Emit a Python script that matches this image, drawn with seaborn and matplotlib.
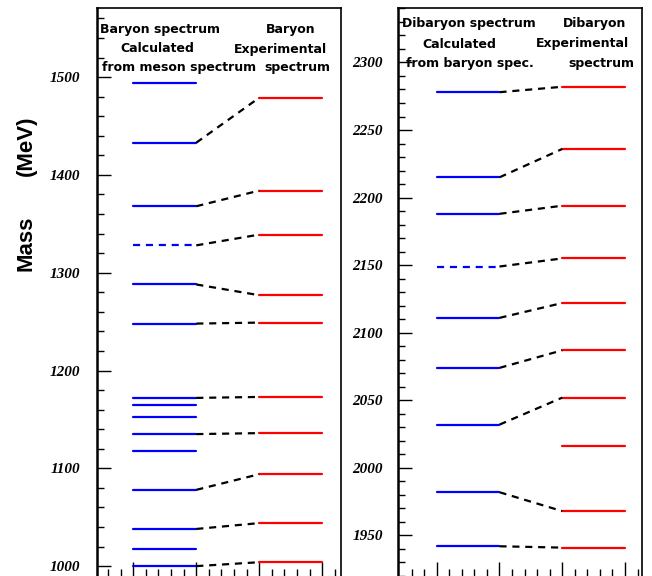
import numpy as np
import pandas as pd
import matplotlib
matplotlib.use("Agg")
import matplotlib.pyplot as plt
import seaborn as sns

# ---------------- data ----------------
# Baryon panel
baryon_calc = [1494, 1433, 1368, 1328, 1288, 1248, 1172, 1165, 1152, 1135, 1118, 1078, 1038, 1017, 1000]
baryon_calc_pred = [False, False, False, True, False, False, False, False, False, False, False, False, False, False, False]
baryon_exp = [1479, 1384, 1339, 1277, 1249, 1173, 1136, 1094, 1044, 1004]
# connections: calculated level -> experimental level
baryon_link_calc = [1433, 1368, 1328, 1288, 1248, 1172, 1135, 1078, 1038, 1000]
baryon_link_exp = [1479, 1384, 1339, 1277, 1249, 1173, 1136, 1094, 1044, 1004]

# Dibaryon panel
dibaryon_calc = [2278, 2215, 2188, 2149, 2111, 2074, 2032, 1982, 1942]
dibaryon_calc_pred = [False, False, False, True, False, False, False, False, False]
dibaryon_exp = [2282, 2236, 2194, 2155, 2122, 2087, 2052, 2016, 1968, 1941]
dibaryon_link_calc = [2278, 2215, 2188, 2149, 2111, 2074, 2032, 1982, 1942]
dibaryon_link_exp = [2282, 2236, 2194, 2155, 2122, 2087, 2052, 1968, 1941]

baryon_headers = [("Baryon spectrum", 160, 29), ("Baryon", 291, 29),
                  ("Calculated", 157, 49), ("Experimental", 280, 49),
                  ("from meson spectrum", 179, 68), ("spectrum", 297, 68)]
dibaryon_headers = [("Dibaryon spectrum", 469, 23), ("Dibaryon", 595, 23),
                    ("Calculated", 459, 44), ("Experimental", 582, 44),
                    ("from baryon spec.", 470, 63), ("spectrum", 601, 63)]

baryon_yticks = [1000, 1100, 1200, 1300, 1400, 1500]
dibaryon_yticks = [1950, 2000, 2050, 2100, 2150, 2200, 2250, 2300]


def build_segments(calc, pred, exp, lcalc, lexp):
    rows = []
    sid = 0
    for m, p in zip(calc, pred):
        kind = "pred" if p else "calc"
        rows += [dict(x=1.0, mass=m, seg=sid, kind=kind), dict(x=2.0, mass=m, seg=sid, kind=kind)]
        sid += 1
    for m in exp:
        rows += [dict(x=3.0, mass=m, seg=sid, kind="exp"), dict(x=4.0, mass=m, seg=sid, kind="exp")]
        sid += 1
    for a, b in zip(lcalc, lexp):
        rows += [dict(x=2.0, mass=a, seg=sid, kind="link"), dict(x=3.0, mass=b, seg=sid, kind="link")]
        sid += 1
    return pd.DataFrame(rows)


sns.set_style("ticks")
plt.rcParams["xtick.direction"] = "in"
plt.rcParams["ytick.direction"] = "in"
plt.rcParams["text.color"] = "black"
plt.rcParams["xtick.color"] = "black"
plt.rcParams["ytick.color"] = "black"
plt.rcParams["axes.edgecolor"] = "black"

W, H = 652, 576
fig = plt.figure(figsize=(W / 100, H / 100), dpi=100)

palette = {"calc": "#0000ff", "pred": "#0000ff", "exp": "#ff0000", "link": "#000000"}
dashes = {"calc": "", "pred": (3.2, 2.6), "exp": "", "link": (3.2, 2.6)}
tick_font = dict(family="Liberation Serif", weight="bold", style="italic", size=11)


def draw_panel(left_px, df, ylim, xlim, yticks, minor_step, pad):
    ax = fig.add_axes([left_px / W, 0.0, 244 / W, 568 / H])
    sns.lineplot(data=df, x="x", y="mass", units="seg", estimator=None,
                 hue="kind", style="kind", palette=palette, dashes=dashes,
                 linewidth=1.6, legend=False, ax=ax, sort=False)
    ax.set_xlim(*xlim)
    ax.set_ylim(*ylim)
    ax.set_xlabel("")
    ax.set_ylabel("")
    ax.set_xticks([1, 2, 3, 4])
    ax.set_xticks(np.arange(0.6, 4.3, 0.2), minor=True)
    ax.set_xticklabels([])
    ax.set_yticks(yticks)
    ax.set_yticks(np.arange(yticks[0] - 100, yticks[-1] + 100, minor_step), minor=True)
    ax.set_ylim(*ylim)
    ax.set_yticklabels([str(t) for t in yticks], fontdict=tick_font, color="black")
    ax.tick_params(axis="both", which="major", length=10, width=1.0, color="black")
    ax.tick_params(axis="both", which="minor", length=5, width=1.0, color="black")
    ax.tick_params(axis="y", which="both", left=True, right=False, pad=pad)
    ax.tick_params(axis="x", which="both", bottom=True, top=False)
    for s in ["top", "right", "left"]:
        ax.spines[s].set_visible(True)
        ax.spines[s].set_color("black")
        ax.spines[s].set_linewidth(1.2)
    ax.spines["left"].set_linewidth(1.8)
    ax.spines["bottom"].set_visible(False)
    return ax


df_b = build_segments(baryon_calc, baryon_calc_pred, baryon_exp, baryon_link_calc, baryon_link_exp)
df_d = build_segments(dibaryon_calc, dibaryon_calc_pred, dibaryon_exp, dibaryon_link_calc, dibaryon_link_exp)

draw_panel(97, df_b, (989.9, 1570.7), (0.424, 4.297), baryon_yticks, 20, 12.2)
draw_panel(398, df_d, (1920.0, 2340.3), (0.384, 4.27), dibaryon_yticks, 10, 10.8)

for txt, xp, yp in baryon_headers + dibaryon_headers:
    fig.text(xp / W, 1 - yp / H, txt, ha="center", va="center",
             family="DejaVu Sans", weight="bold", size=9.0, color="black")

fig.text(26 / W, 1 - 243 / H, "Mass", rotation=90, ha="center", va="center",
         family="Liberation Sans", weight="bold", size=16, color="black")
fig.text(26 / W, 1 - 146 / H, "(MeV)", rotation=90, ha="center", va="center",
         family="Liberation Sans", weight="bold", size=16, color="black")

fig.savefig("out.png", dpi=100)
